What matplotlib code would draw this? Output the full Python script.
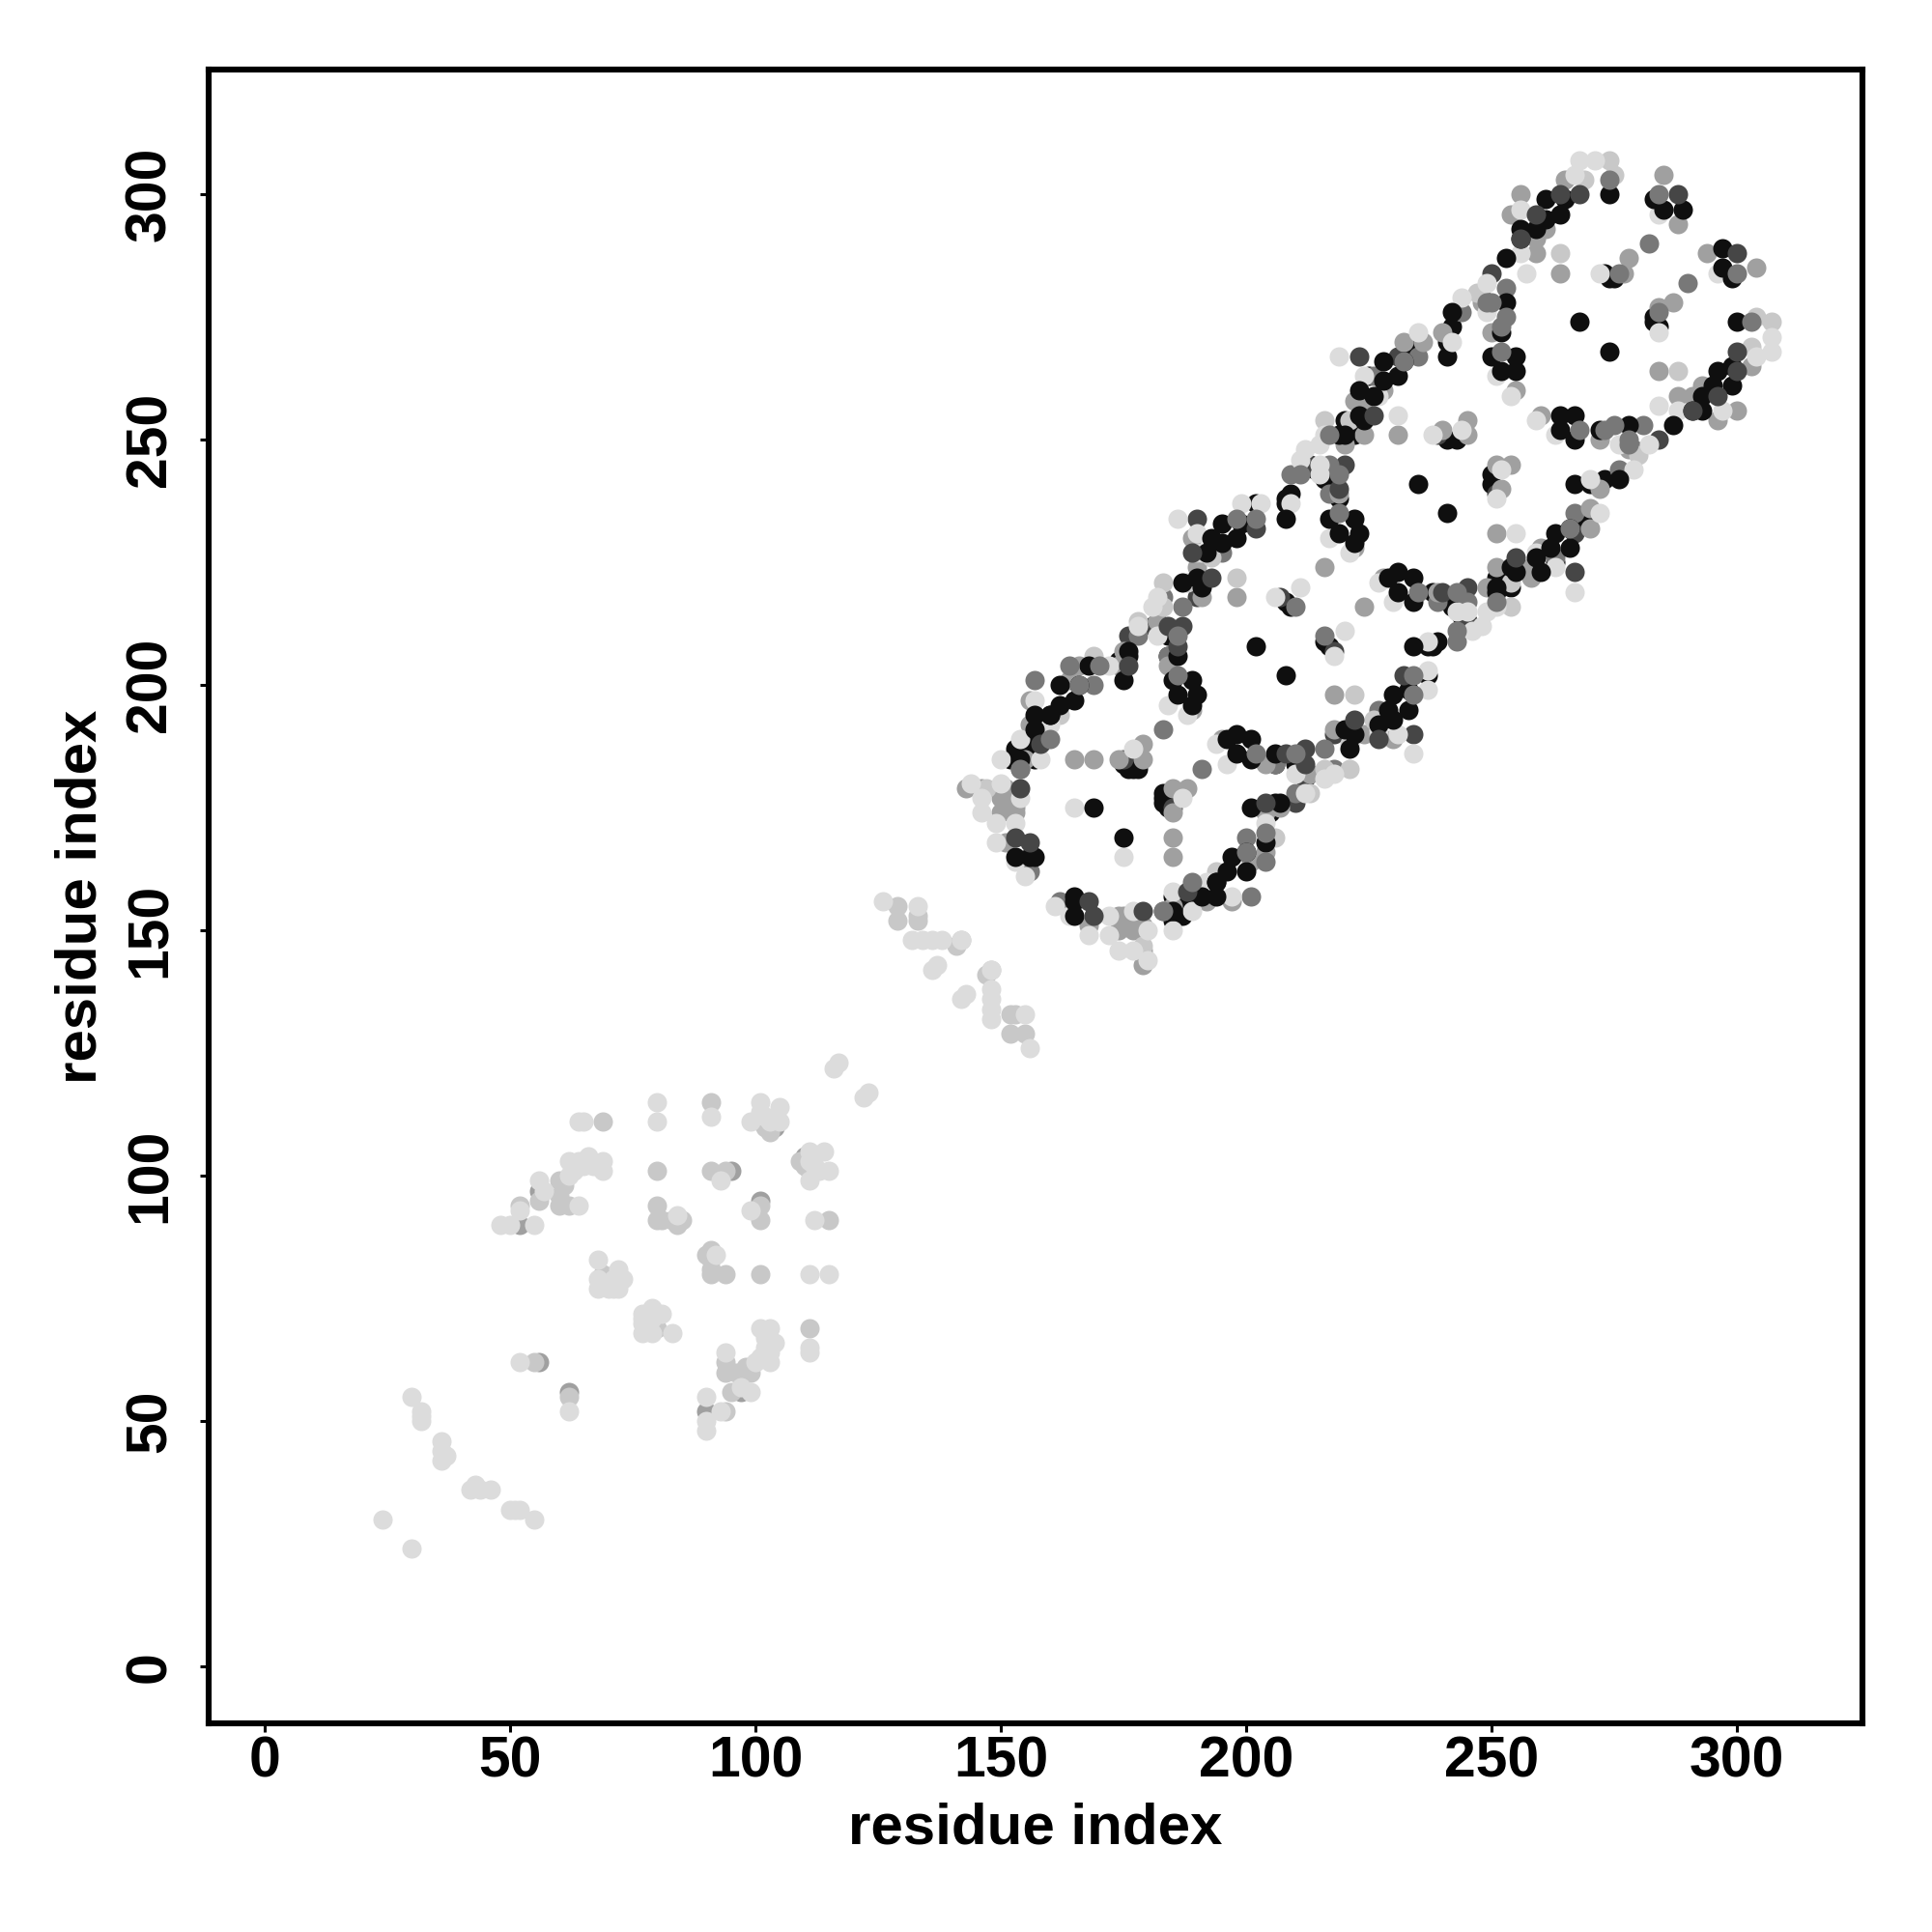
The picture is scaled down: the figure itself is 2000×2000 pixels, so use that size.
import matplotlib
matplotlib.use("Agg")
import matplotlib.pyplot as plt

plt.rcParams['font.family'] = ['Liberation Sans', 'DejaVu Sans']
plt.rcParams['font.weight'] = 'bold'

# contacts, upper triangle only (i < j), the map is symmetric so both (i,j) and (j,i) get drawn
# black points that sit under the lighter ones
black_under_i = [152,153,157,153,156,174,176,183,184,213,214,216,219,202,208,208,209,220,222,225,234,208,209,241,243,241,241,242,273,274,275,176,177,178,175,176,184]
black_under_j = [185,187,185,185,188,205,206,211,210,245,244,242,238,237,238,237,239,254,251,263,269,217,216,250,250,267,270,273,284,283,283,184,183,183,184,183,206]

dark_under_i = [176,181,190,190,213,220,231,239,250,175,207]
dark_under_j = [210,212,218,234,245,245,267,251,284,185,218]

middark_under_i = [154,157,169,178,183,187,195,209,217,217,223,226,235,244,248,253,184,210,156]
middark_under_j = [183,201,200,210,218,216,227,243,245,239,258,263,267,276,279,281,206,216,162]

mid_i = [52,95,56,56,104,155,156,156,164,166,165,169,174,179,179,174,175,182,191,184,190,189,198,216,219,220,224,222,224,228,232,236,240,231,245,245,240,248,250,254,256,259,259,261,264,265,277,278,285,288,255,189,222,143,146,150,150,151,153,153,153,151]
mid_j = [90,101,97,62,110,185,192,197,201,204,185,185,185,185,188,204,207,213,218,204,224,230,218,224,239,249,251,258,258,260,270,270,272,251,254,251,252,278,272,296,300,291,288,293,284,303,284,287,304,294,260,195,228,179,179,177,174,179,175,176,174,168]

midlight_i = [55,52,56,60,62,60,60,61,69,69,80,80,81,83,85,84,80,91,91,94,101,102,103,129,129,133,133,141,142,162,169,178,183,188,183,190,216,198,221,247,264,269,274,275,193,147]
midlight_j = [62,94,95,94,94,96,99,98,111,80,101,94,91,91,91,90,91,115,101,101,111,110,109,155,152,152,153,147,148,194,206,213,216,221,221,227,254,222,254,280,288,303,307,304,226,179]

light_i = [24,30,32,32,32,36,36,36,37,52,48,50,55,52,57,56,64,62,62,63,64,65,66,67,69,69,64,65,68,68,68,70,71,72,73,71,70,72,80,80,84,91,93,99,101,101,105,105,104,102,103,116,117,126,133,132,134,136,138,136,137,142,144,150,146,146,149,153,154,149,155,153,150,158,154,158,160,157,172,177,165,178,182,181,182,184,188,186,191,190,199,203,209,211,212,215,215,215,216,219,224,227,235,242,244,249,249,257,256,256,267,268,271,206,211,217,221,231,238,244,251,254,272,284]
light_j = [30,55,50,51,52,42,44,46,43,62,90,90,90,93,97,99,94,100,103,101,103,102,104,102,101,103,111,111,77,79,83,77,77,81,79,79,78,77,115,111,92,112,99,111,115,113,111,114,112,112,111,122,123,156,155,148,148,148,148,142,143,148,180,180,177,174,172,172,177,168,161,164,185,185,189,191,192,197,204,187,175,212,210,216,218,196,194,234,227,231,237,237,237,246,248,245,243,249,251,267,263,259,272,270,279,276,282,284,288,297,304,307,307,218,220,230,227,255,251,252,263,259,284,296]

black_top_i = [154,160,162,165,162,166,168,157,160,157,175,176,186,187,191,190,192,193,195,199,198,195,208,223,224,228,228,231,232,226,223,219,220,242,253,252,253,256,256,259,261,261,264,265,274,169,185,189,186,190,189,202,217,222,219,223,222,235,250,255,252,255,268,285,289,283,153,156,157]
black_top_j = [185,194,196,197,200,200,204,191,194,194,201,207,206,221,220,222,227,230,233,233,230,229,234,255,254,266,262,263,266,259,260,251,251,276,278,272,287,293,291,293,295,299,296,299,300,175,201,201,198,198,196,208,234,234,231,231,229,241,267,267,264,264,274,297,297,299,165,165,165]

dark_top_i = [158,176,184,187,186,189,193,202,219,223,226,256,259,268,288,154,153,156,264]
dark_top_j = [188,204,212,212,208,227,222,232,240,267,255,291,296,300,300,179,169,168,300]

middark_top_i = [160,164,170,166,154,186,198,202,219,217,211,232,249,250,252,253,274,276,284,282,183,219,252,186]
middark_top_j = [189,204,204,200,183,202,234,234,235,251,243,266,278,278,268,275,303,284,300,290,191,243,273,210]

axis_ticks = [0, 50, 100, 150, 200, 250, 300]

layers = [
    (black_under_i, black_under_j, 15),
    (dark_under_i, dark_under_j, 70),
    (middark_under_i, middark_under_j, 120),
    (mid_i, mid_j, 160),
    (midlight_i, midlight_j, 200),
    (light_i, light_j, 220),
    (black_top_i, black_top_j, 15),
    (dark_top_i, dark_top_j, 70),
    (middark_top_i, middark_top_j, 120),
]

fig = plt.figure(figsize=(10, 10), dpi=200)
ax = fig.add_axes([216/2000, 216/2000, 1712/2000, 1712/2000])

for res_i, res_j, grey in layers:
    colour = (grey/255, grey/255, grey/255)
    ax.scatter(res_i + res_j, res_j + res_i, s=52, color=colour, linewidths=0, zorder=2)

ax.set_xlim(-11.4, 325.6)
ax.set_ylim(-11.55, 325.45)
ax.set_xticks(axis_ticks)
ax.set_yticks(axis_ticks)
ax.tick_params(axis='both', length=3.2, width=1.1, labelsize=21.2)
ax.tick_params(axis='x', pad=1.2)
ax.tick_params(axis='y', pad=8.5)
plt.setp(ax.get_yticklabels(), rotation=90, va='center')
for side in ax.spines.values():
    side.set_linewidth(2.2)

ax.set_xlabel('residue index', fontsize=21.6, fontweight='bold', labelpad=5)
ax.set_ylabel('residue index', fontsize=21.6, fontweight='bold', labelpad=6)

plt.savefig('out.png', dpi=200)
